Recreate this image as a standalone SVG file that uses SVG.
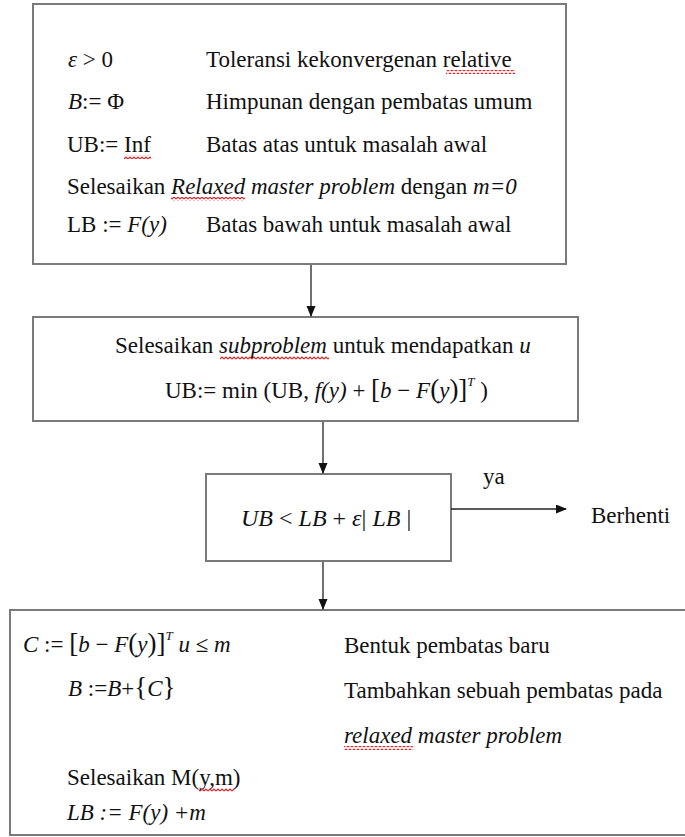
<svg xmlns="http://www.w3.org/2000/svg" width="685" height="837" viewBox="0 0 685 837">
<style>
.box{fill:#fff;stroke:#7a7a7a;stroke-width:2}
.con{stroke:#222;stroke-width:1.3;fill:none}
text{font-family:"Liberation Serif","Times New Roman",serif;font-size:23px;fill:#111}
.i{font-style:italic}
.sup{font-size:13px;font-style:italic}
.big{font-size:27px}
.sq{fill:url(#squig)}
.cond{font-size:24px}
</style>
<defs>
<marker id="ah" markerWidth="11" markerHeight="10" refX="10" refY="4.5" orient="auto" markerUnits="userSpaceOnUse">
<path d="M0,0 L11,4.5 L0,9 z" fill="#111"/>
</marker>
<pattern id="squig" x="0" y="0" width="4" height="4" patternUnits="userSpaceOnUse">
<polyline points="0,3 2,1 4,3" fill="none" stroke="#e02020" stroke-width="1.1"/>
</pattern>
</defs>
<rect width="685" height="837" fill="#fff"/>

<g id="init">
<rect class="box" x="33" y="4" width="533" height="260"/>
<text x="68" y="67"><tspan class="i">ε</tspan> &gt; 0</text>
<text x="206" y="67">Toleransi kekonvergenan relative</text>
<rect class="sq" x="446" y="70" width="69" height="4"/>
<text x="68" y="109"><tspan class="i">B</tspan>:= Φ</text>
<text x="206" y="109">Himpunan dengan pembatas umum</text>
<text x="67" y="152">UB:= Inf</text>
<rect class="sq" x="124" y="155" width="27" height="4"/>
<text x="206" y="152">Batas atas untuk masalah awal</text>
<text x="67" y="194">Selesaikan <tspan class="i">Relaxed master problem</tspan> dengan <tspan class="i">m=0</tspan></text>
<rect class="sq" x="171" y="197" width="74" height="4"/>
<text x="67" y="232">LB := <tspan class="i">F(y)</tspan></text>
<text x="206" y="232">Batas bawah untuk masalah awal</text>
</g>

<g id="subproblem">
<rect class="box" x="33" y="317" width="545" height="104"/>
<text x="115" y="353">Selesaikan  <tspan class="i">subproblem</tspan> untuk mendapatkan <tspan class="i">u</tspan></text>
<rect class="sq" x="220" y="356" width="109" height="4"/>
<text x="165" y="398">UB:= min (UB, <tspan class="i">f(y)</tspan> +  <tspan class="big">[</tspan><tspan class="i">b</tspan> − <tspan class="i">F</tspan><tspan class="big">(</tspan><tspan class="i">y</tspan><tspan class="big">)]</tspan><tspan class="sup" dy="-12">T</tspan><tspan dy="12"> )</tspan></text>
</g>

<g id="check">
<rect class="box" x="206" y="474" width="245" height="87"/>
<text class="cond" x="241" y="526"><tspan class="i">UB</tspan> &lt; <tspan class="i">LB</tspan> + <tspan class="i">ε</tspan>| <tspan class="i">LB</tspan> |</text>
</g>

<g id="stop">
<text x="483" y="484">ya</text>
<text x="591" y="523">Berhenti</text>
</g>

<g id="update">
<rect class="box" x="10" y="610" width="680" height="225"/>
<text x="23" y="652"><tspan class="i">C</tspan> := <tspan class="big">[</tspan><tspan class="i">b</tspan> − <tspan class="i">F</tspan><tspan class="big">(</tspan><tspan class="i">y</tspan><tspan class="big">)]</tspan><tspan class="sup" dy="-12">T</tspan><tspan dy="12"> </tspan><tspan class="i">u</tspan> ≤ <tspan class="i">m</tspan></text>
<text x="344" y="653">Bentuk pembatas baru</text>
<text x="68" y="696"><tspan class="i">B</tspan> :=<tspan class="i">B</tspan>+<tspan class="big">{</tspan><tspan class="i">C</tspan><tspan class="big">}</tspan></text>
<text x="344" y="698">Tambahkan sebuah pembatas pada</text>
<text x="344" y="743"><tspan class="i">relaxed master problem</tspan></text>
<rect class="sq" x="344" y="746" width="69" height="4"/>
<text x="67" y="785">Selesaikan M(y,m)</text>
<rect class="sq" x="199" y="788" width="35" height="4"/>
<text x="67" y="820" class="i">LB := F(y) +m</text>
</g>

<g id="connectors">
<line class="con" x1="311" y1="265" x2="311" y2="316" marker-end="url(#ah)"/>
<line class="con" x1="323" y1="422" x2="323" y2="473" marker-end="url(#ah)"/>
<line class="con" x1="451" y1="509" x2="566" y2="509" marker-end="url(#ah)"/>
<line class="con" x1="323" y1="562" x2="323" y2="609" marker-end="url(#ah)"/>
</g>
</svg>
